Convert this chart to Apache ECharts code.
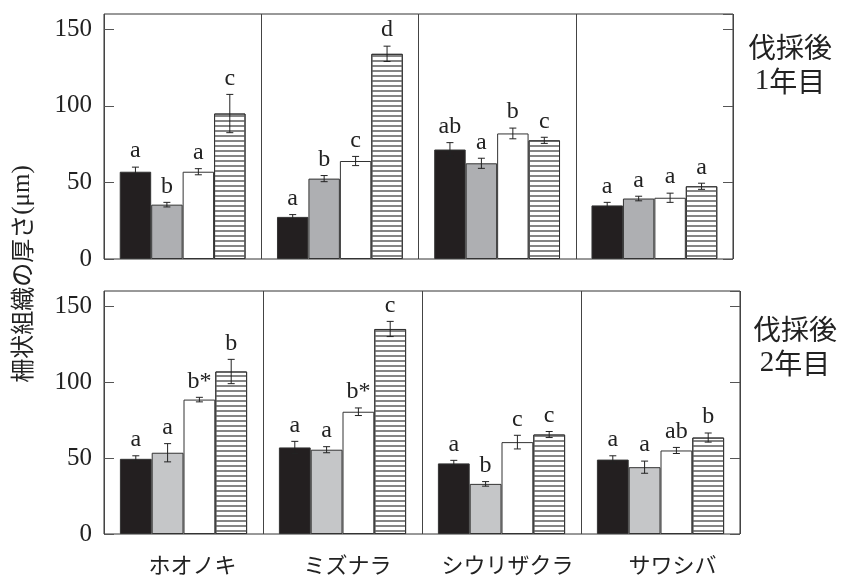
<!DOCTYPE html>
<html><head><meta charset="utf-8">
<script src="https://cdn.jsdelivr.net/npm/echarts@6/dist/echarts.min.js"></script>
<style>html,body{margin:0;padding:0;background:#fff}#c{width:841px;height:582px}</style>
</head><body><div id="c"></div>
<script>
// ---- data ----
const groups = ['ホオノキ', 'ミズナラ', 'シウリザクラ', 'サワシバ'];
const yTicks = [0, 50, 100, 150];
const yTitle = '柵状組織の厚さ(μm)';

// Year 1 (top panel)
const y1Black   = [57, 27.5, 71.5, 35];
const y1Gray    = [35.5, 52.5, 62.5, 39.5];
const y1White   = [57, 64, 82, 40];
const y1Striped = [95, 134, 77.5, 47.5];
const y1BlackErr   = [3, 1.5, 4.5, 2];
const y1GrayErr    = [1.5, 2, 3.3, 1.5];
const y1WhiteErr   = [2, 3, 3.5, 3];
const y1StripedErr = [12.5, 5, 2, 2];
const y1BlackLet   = ['a', 'a', 'ab', 'a'];
const y1GrayLet    = ['b', 'b', 'a', 'a'];
const y1WhiteLet   = ['a', 'c', 'b', 'a'];
const y1StripedLet = ['c', 'd', 'c', 'a'];

// Year 2 (bottom panel)
const y2Black   = [49.5, 57, 46.5, 49];
const y2Gray    = [53.5, 55.5, 33, 44];
const y2White   = [88.5, 80.5, 60.5, 55];
const y2Striped = [107, 135, 65.5, 63.5];
const y2BlackErr   = [2, 4, 2, 2.5];
const y2GrayErr    = [6, 2, 1.5, 4];
const y2WhiteErr   = [1.5, 2.5, 4.5, 2];
const y2StripedErr = [8, 5, 2, 3];
const y2BlackLet   = ['a', 'a', 'a', 'a'];
const y2GrayLet    = ['a', 'a', 'b', 'a'];
const y2WhiteLet   = ['b*', 'b*', 'c', 'ab'];
const y2StripedLet = ['b', 'c', 'c', 'b'];

// ---- build ----
const SERIF = '"Liberation Serif","DejaVu Serif",serif';
const SANS = '"Noto Sans CJK JP","Noto Sans",sans-serif';
const panels = [
  {vals: [y1Black, y1Gray, y1White, y1Striped], errs: [y1BlackErr, y1GrayErr, y1WhiteErr, y1StripedErr],
   lets: [y1BlackLet, y1GrayLet, y1WhiteLet, y1StripedLet], gray: '#aeafb2'},
  {vals: [y2Black, y2Gray, y2White, y2Striped], errs: [y2BlackErr, y2GrayErr, y2WhiteErr, y2StripedErr],
   lets: [y2BlackLet, y2GrayLet, y2WhiteLet, y2StripedLet], gray: '#c5c6c8'}
];
const gridPos = [
  {left: 104, top: 14, width: 629, height: 245},
  {left: 104, top: 291, width: 636, height: 243}
];
const labelShift = [18, 10, 12, 24];

const grid = [], xAxis = [], yAxis = [], series = [];
panels.forEach((p, pi) => {
  grid.push(Object.assign({show: true, borderColor: '#333', borderWidth: 1, backgroundColor: 'transparent'}, gridPos[pi]));
  xAxis.push({
    type: 'category', gridIndex: pi, data: groups,
    axisLine: {show: false}, axisTick: {show: false, interval: 0},
    splitLine: {show: true, interval: 0, lineStyle: {color: '#444', width: 1}},
    axisLabel: pi === 1 ? {
      show: true, interval: 0, margin: 20,
      formatter: (v, i) => '{s' + i + '|' + v + '}',
      rich: {
        s0: {padding: [0, 0, 0, labelShift[0]], fontSize: 22, fontFamily: SANS, color: '#222'},
        s1: {padding: [0, 0, 0, labelShift[1]], fontSize: 22, fontFamily: SANS, color: '#222'},
        s2: {padding: [0, 0, 0, labelShift[2]], fontSize: 22, fontFamily: SANS, color: '#222'},
        s3: {padding: [0, 0, 0, labelShift[3]], fontSize: 22, fontFamily: SANS, color: '#222'}
      }
    } : {show: false}
  });
  const yBase = {
    type: 'value', gridIndex: pi, min: 0, max: 160, interval: 50,
    axisLine: {show: false}, splitLine: {show: false},
    axisTick: {show: true, inside: true, length: 10, lineStyle: {color: '#555', width: 1}}
  };
  yAxis.push(Object.assign({}, yBase, {
    position: 'left',
    axisLabel: {show: true, margin: 12, fontSize: 25, fontFamily: SERIF, color: '#222', showMaxLabel: false,
      formatter: v => (yTicks.indexOf(v) >= 0 ? String(v) : '')}
  }));
  yAxis.push(Object.assign({}, yBase, {position: 'right', axisLabel: {show: false}}));

  const colors = ['#231f20', p.gray, '#ffffff', '#ffffff'];
  p.vals.forEach((vals, si) => {
    const s = {
      type: 'bar', xAxisIndex: pi, yAxisIndex: pi * 2, data: vals,
      barGap: '0%', barCategoryGap: '20%', silent: true,
      itemStyle: {color: colors[si], borderColor: '#333', borderWidth: 1}
    };
    if (si === 3) {
      s.itemStyle.decal = {symbol: 'rect', symbolSize: 1, dashArrayX: [1, 0], dashArrayY: [1.5, 3], color: '#858585', rotation: 0};
    }
    series.push(s);
  });

  // error bars + letters
  const items = [], lets = [];
  p.vals.forEach((vals, si) => vals.forEach((v, gi) => {
    items.push([gi, si, v, p.errs[si][gi]]);
    lets.push(p.lets[si][gi]);
  }));
  series.push({
    type: 'custom', xAxisIndex: pi, yAxisIndex: pi * 2, data: items, silent: true, z: 10,
    renderItem: (params, api) => {
      const gi = api.value(0), si = api.value(1), v = api.value(2), e = api.value(3);
      const band = api.size([1, 0])[0];
      const bw = band * 0.8 / 4;
      const cx = api.coord([gi, 0])[0] + (si - 1.5) * bw;
      const yT = api.coord([gi, v + e])[1];
      const yB = api.coord([gi, v - e])[1];
      const cap = 3.5;
      const ls = {stroke: '#222', lineWidth: 1};
      return {
        type: 'group', children: [
          {type: 'line', shape: {x1: cx, y1: yT, x2: cx, y2: yB}, style: ls},
          {type: 'line', shape: {x1: cx - cap, y1: yT, x2: cx + cap, y2: yT}, style: ls},
          {type: 'line', shape: {x1: cx - cap, y1: yB, x2: cx + cap, y2: yB}, style: ls},
          {type: 'text', style: {text: lets[params.dataIndex], x: cx, y: yT - 4, align: 'center', verticalAlign: 'bottom',
            font: '24px ' + SERIF, fill: '#222'}}
        ]
      };
    }
  });
});

const chart = echarts.init(document.getElementById('c'));
chart.setOption({
  animation: false,
  backgroundColor: '#fff',
  grid, xAxis, yAxis, series,
  graphic: [
    {type: 'text', x: 22, y: 274, rotation: Math.PI / 2,
     style: {text: '{a|' + yTitle.slice(0, 7) + '}{b|' + yTitle.slice(7) + '}', align: 'center', verticalAlign: 'middle',
       rich: {a: {fontSize: 24, fontFamily: SANS, fill: '#222'}, b: {fontSize: 25, fontFamily: SERIF, fill: '#222'}}}},
    {type: 'text', x: 790, y: 64,
     style: {text: '{c|伐採後}\n{n|1}{c|年目}', align: 'center', verticalAlign: 'middle',
       rich: {c: {fontSize: 28, fontFamily: SANS, fill: '#222', lineHeight: 34}, n: {fontSize: 29, fontFamily: SERIF, fill: '#222', lineHeight: 34}}}},
    {type: 'text', x: 795, y: 346,
     style: {text: '{c|伐採後}\n{n|2}{c|年目}', align: 'center', verticalAlign: 'middle',
       rich: {c: {fontSize: 28, fontFamily: SANS, fill: '#222', lineHeight: 34}, n: {fontSize: 29, fontFamily: SERIF, fill: '#222', lineHeight: 34}}}}
  ]
});
</script>
</body></html>
